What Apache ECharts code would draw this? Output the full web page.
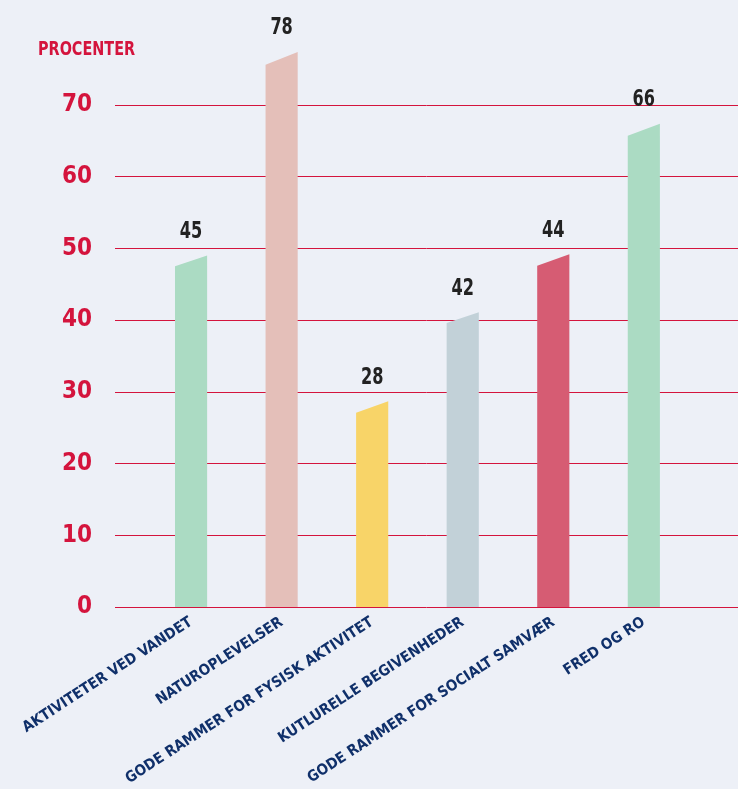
<!DOCTYPE html>
<html>
<head>
<meta charset="utf-8">
<script src="https://cdn.jsdelivr.net/npm/echarts@6/dist/echarts.min.js"></script>
<style>
  html, body { margin: 0; padding: 0; background: #edf0f7; }
  #chart { width: 738px; height: 789px; }
</style>
</head>
<body>
<div id="chart"></div>
<script>
// labels and values as printed above the bars
const categories = [
    'AKTIVITETER VED VANDET',
    'NATUROPLEVELSER',
    'GODE RAMMER FOR FYSISK AKTIVITET',
    'KUTLURELLE BEGIVENHEDER',
    'GODE RAMMER FOR SOCIALT SAMVÆR',
    'FRED OG RO'
];
const values = [45, 78, 28, 42, 44, 66];
// bar tops as drawn in the picture (slanted: left edge lower than right edge)
const topLeft = [47.5, 75.6, 27.1, 39.6, 47.6, 65.7];
const topRight = [49.0, 77.4, 28.7, 41.1, 49.2, 67.4];
const colors = ['#abdbc3', '#e4bfb9', '#f8d468', '#c2d1d8', '#d65c73', '#abdbc3'];
const yTicks = [0, 10, 20, 30, 40, 50, 60, 70];

const FONT = '"DejaVu Sans Condensed", "Roboto", sans-serif';
const RED = '#d4143d';

const chart = echarts.init(document.getElementById('chart'));

function renderBar(params, api) {
    let i = api.value(0);
    let w = api.size([1, 0])[0] * 0.355;
    let base = api.coord([i, 0]);
    let l = api.coord([i, api.value(1)]);
    let r = api.coord([i, api.value(2)]);
    let x0 = base[0] - w / 2, x1 = base[0] + w / 2;
    return {
        type: 'group',
        children: [{
            type: 'polygon',
            shape: { points: [[x0, base[1]], [x0, l[1]], [x1, r[1]], [x1, base[1]]] },
            style: { fill: colors[i] }
        }, {
            type: 'text',
            x: base[0],
            y: r[1] - 12,
            scaleX: 0.78,
            style: {
                text: String(api.value(3)),
                fill: '#222',
                font: 'bold 23px ' + FONT,
                align: 'center',
                verticalAlign: 'bottom'
            }
        }]
    };
}

chart.setOption({
    backgroundColor: '#edf0f7',
    animation: false,
    grid: { left: 115, right: 0, top: 105, bottom: 182, outerBoundsMode: 'none', containLabel: false },
    graphic: [{
        type: 'text',
        left: 38,
        top: 40,
        scaleX: 0.8,
        style: { text: 'PROCENTER', fill: RED, font: 'bold 20px ' + FONT }
    }],
    xAxis: {
        type: 'value',
        min: -0.84,
        max: 6.04,
        splitLine: { show: false },
        axisLine: { show: false },
        axisTick: { show: false },
        axisLabel: {
            customValues: [0, 1, 2, 3, 4, 5],
            rotate: 33,
            margin: 14,
            color: '#10306a',
            fontFamily: FONT,
            fontWeight: 'bold',
            fontSize: 15,
            formatter: function (v) { return categories[v]; }
        }
    },
    yAxis: {
        type: 'value',
        min: 0,
        max: 70,
        interval: 10,
        axisLine: { show: false },
        axisTick: { show: false },
        splitLine: { lineStyle: { color: RED, width: 1 } },
        axisLabel: {
            customValues: yTicks,
            margin: 23,
            color: RED,
            fontFamily: FONT,
            fontWeight: 'bold',
            fontSize: 24
        }
    },
    series: [{
        type: 'custom',
        clip: false,
        z: 1,
        renderItem: renderBar,
        encode: { x: 0, y: [1, 2] },
        data: categories.map((c, i) => [i, topLeft[i], topRight[i], values[i]])
    }]
});
</script>
</body>
</html>
